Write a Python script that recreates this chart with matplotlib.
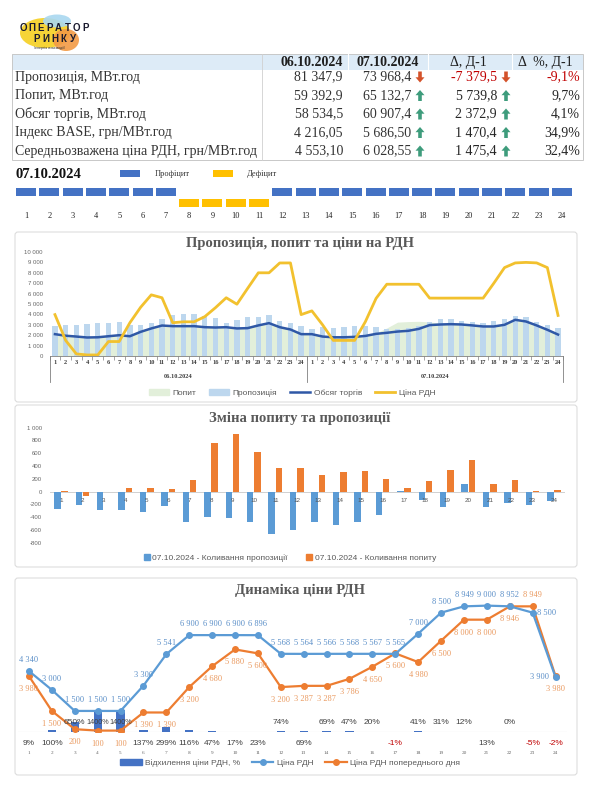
import matplotlib
matplotlib.use("Agg")
import matplotlib.pyplot as plt
from matplotlib.patches import Rectangle, FancyBboxPatch, Polygon, Ellipse, Patch
from matplotlib.lines import Line2D

W, H = 593, 800
SERIF = ["Liberation Serif", "DejaVu Serif"]
SANS = ["Liberation Sans", "DejaVu Sans"]
plt.rcParams["font.family"] = SANS

# ---- table ----
row_names = ["Пропозиція, МВт.год", "Попит, МВт.год", "Обсяг торгів, МВт.год",
             "Індекс BASE, грн/МВт.год", "Середньозважена ціна РДН, грн/МВт.год"]
row_prev = [81347.9, 59392.9, 58534.5, 4216.05, 4553.10]
row_cur = [73968.4, 65132.7, 60907.4, 5686.50, 6028.55]
row_delta = [-7379.5, 5739.8, 2372.9, 1470.4, 1475.4]
row_delta_pct = [-9.1, 9.7, 4.1, 34.9, 32.4]
row_decimals = [1, 1, 1, 2, 2]
date_prev = "06.10.2024"
date_cur = "07.10.2024"

# ---- hourly data ----
hours = list(range(1, 25))
deficit_hours = [8, 9, 10, 11]

supply_prev = [2850, 3000, 3000, 3100, 3200, 3150, 3250, 2950, 3000, 3150, 3550, 3900,
               4000, 4050, 3800, 3650, 3200, 3450, 3750, 3750, 3950, 3400, 3150, 2850]
supply_cur = [2580, 2790, 2720, 2820, 2890, 2925, 2770, 2555, 2595, 2670, 2895, 3300,
              3520, 3530, 3330, 3285, 3210, 3320, 3510, 3870, 3710, 3230, 2950, 2710]
demand_prev = [2140, 1985, 1905, 1815, 1835, 1935, 2035, 1935, 2355, 2690, 2965, 2905,
               2905, 2905, 2805, 2775, 2805, 2685, 2715, 2975, 3195, 2805, 2585, 2135]
demand_cur = [2145, 1915, 1895, 1880, 1895, 1980, 2225, 2695, 3255, 3310, 3335, 3275,
              3165, 3215, 3135, 2975, 2860, 2845, 3055, 3475, 3315, 2985, 2590, 2165]
volume_prev = [2100, 1950, 1870, 1780, 1800, 1900, 2000, 1900, 2320, 2650, 2930, 2870,
               2870, 2870, 2770, 2740, 2770, 2650, 2680, 2940, 3160, 2770, 2550, 2100]
volume_cur = [2100, 1870, 1800, 1800, 1840, 1930, 2130, 2230, 2350, 2420, 2610, 2970,
              3030, 3060, 3030, 2940, 2840, 2840, 3000, 3480, 3320, 2940, 2520, 2060]
price_prev = [3980, 1500, 200, 100, 100, 1390, 1390, 3200, 4680, 5880, 5600, 3200,
              3287, 3287, 3786, 4650, 5600, 4980, 6500, 8000, 8000, 8946, 8949, 3980]
price_cur = [4340, 3000, 1500, 1500, 1500, 3300, 5541, 6900, 6900, 6900, 6896, 5568,
             5564, 5566, 5568, 5567, 5565, 7000, 8500, 8949, 9000, 8952, 8500, 3900]
supply_change = [-270, -210, -280, -280, -310, -225, -480, -395, -405, -480, -655, -600,
                 -480, -520, -470, -365, 10, -130, -240, 120, -240, -170, -200, -140]
demand_change = [5, -70, -10, 65, 60, 45, 190, 760, 900, 620, 370, 370,
                 260, 310, 330, 200, 55, 160, 340, 500, 120, 180, 5, 30]
price_dev_pct = [9, 100, 650, 1400, 1400, 137, 299, 116, 47, 17, 23, 74,
                 69, 69, 47, 20, -1, 41, 31, 12, 13, 0, -5, -2]
# where Excel put each % label: above the bars (1) or under the axis (0)
dev_label_up = [0, 0, 1, 1, 1, 0, 0, 0, 0, 0, 0, 1, 0, 1, 1, 1, 0, 1, 1, 1, 0, 1, 0, 0]

GRAY = "#595959"
BLUE_SQ = "#4472C4"
YELLOW_SQ = "#FFC000"


def px_axes(fig, x0, y0, x1, y1):
    return fig.add_axes([x0 / W, 1 - y1 / H, (x1 - x0) / W, (y1 - y0) / H])


def fmt(v, dec=0):
    s = f"{v:,.{dec}f}"
    return s.replace(",", " ").replace(".", ",")


def arrow(ax, x, y, up, color):
    s = 1 if up else -1
    pts = [(x, y - 5.5 * s), (x + 4.5, y - 0.3 * s), (x + 1.8, y - 0.3 * s),
           (x + 1.8, y + 5.5 * s), (x - 1.8, y + 5.5 * s), (x - 1.8, y - 0.3 * s),
           (x - 4.5, y - 0.3 * s)]
    ax.add_patch(Polygon(pts, closed=True, color=color, lw=0))


def draw_logo(bg):
    bg.add_patch(Ellipse((45, 33), 50, 30, color="#F6D437", lw=0))
    bg.add_patch(Ellipse((66, 40), 26, 22, color="#F29A45", lw=0, alpha=0.9))
    bg.add_patch(Ellipse((57, 21), 28, 13, color="#A9D8F0", lw=0, alpha=0.9))
    # letter-spaced wordmark
    for i, ch in enumerate("ОПЕРАТОР"):
        bg.text(23 + i * 8.9, 28, ch, fontsize=7, fontweight="bold", ha="center",
                va="center", color="#1A1A2E")
    for i, ch in enumerate("РИНКУ"):
        bg.text(37 + i * 8.9, 38.5, ch, fontsize=7, fontweight="bold", ha="center",
                va="center", color="#1A1A2E")
    bg.text(50, 47.5, "/енергія взаємодії/", fontsize=2.6, ha="center", va="center",
            color="#333333")


def draw_table(bg):
    x0, x1, top, bottom = 12, 583, 54, 160
    bg.add_patch(Rectangle((x0, top), x1 - x0, 16, color="#DDEBF7", lw=0))
    bg.add_patch(Rectangle((x0, top), x1 - x0, bottom - top, fill=False,
                           edgecolor="#C8C8C8", lw=0.7))
    bg.plot([262, 262], [top, bottom], color="#D0D0D0", lw=0.6)
    for xs in [348, 428, 512]:
        bg.plot([xs, xs], [top, top + 16], color="white", lw=0.8)

    hy = 62.5
    bg.text(312, hy, date_prev, family=SERIF, fontsize=10, fontweight="bold",
            ha="center", va="center", color="#1F1F1F")
    bg.text(388, hy, date_cur, family=SERIF, fontsize=10, fontweight="bold",
            ha="center", va="center", color="#1F1F1F")
    bg.text(468, hy, "Δ, Д-1", family=SERIF, fontsize=10, ha="center", va="center",
            color="#1F1F1F")
    bg.text(545, hy, "Δ  %, Д-1", family=SERIF, fontsize=10, ha="center", va="center",
            color="#1F1F1F")

    ys = [77, 95.5, 114, 132.5, 151]
    for i, y in enumerate(ys):
        dec = row_decimals[i]
        neg = row_delta[i] < 0
        col = "#C00000" if neg else "#262626"
        acol = "#D4522A" if neg else "#3E9C7C"
        bg.text(15, y, row_names[i], family=SERIF, fontsize=10, ha="left", va="center",
                color="#333333")
        bg.text(343, y, fmt(row_prev[i], dec), family=SERIF, fontsize=10, ha="right",
                va="center", color="#333333")
        bg.text(411, y, fmt(row_cur[i], dec), family=SERIF, fontsize=10, ha="right",
                va="center", color="#333333")
        arrow(bg, 420, y, not neg, acol)
        bg.text(497, y, fmt(row_delta[i], 1), family=SERIF, fontsize=10, ha="right",
                va="center", color=col)
        arrow(bg, 506, y, not neg, acol)
        bg.text(580, y, fmt(row_delta_pct[i], 1) + "%", family=SERIF, fontsize=10,
                ha="right", va="center", color=col)


def draw_hours_strip(bg):
    bg.text(15, 175, date_cur, family=SERIF, fontsize=10.5, fontweight="bold",
            ha="left", va="center", color="#111111")
    bg.add_patch(Rectangle((120, 170), 20, 7, color=BLUE_SQ, lw=0))
    bg.text(155, 173.5, "Профіцит", family=SERIF, fontsize=6, ha="left", va="center",
            color="#333333")
    bg.add_patch(Rectangle((213, 170), 20, 7, color=YELLOW_SQ, lw=0))
    bg.text(247, 173.5, "Дефіцит", family=SERIF, fontsize=6, ha="left", va="center",
            color="#333333")
    step = (562 - 26) / 23
    for h in hours:
        cx = 26 + (h - 1) * step
        if h in deficit_hours:
            bg.add_patch(Rectangle((cx - 10, 199), 20, 8, color=YELLOW_SQ, lw=0))
        else:
            bg.add_patch(Rectangle((cx - 10, 188), 20, 8, color=BLUE_SQ, lw=0))
        bg.text(cx, 216, str(h), family=SERIF, fontsize=6, ha="center", va="center",
                color="#222222")


def frame(bg, y0, y1, title, ty):
    bg.add_patch(FancyBboxPatch((15, y0), 562, y1 - y0, boxstyle="round,pad=0,rounding_size=3",
                                facecolor="white", edgecolor="#DDDDDD", lw=0.8))
    bg.text(300, ty, title, family=SERIF, fontsize=10.5, fontweight="bold", ha="center",
            va="center", color=GRAY)


def draw_chart1(fig):
    ax = px_axes(fig, 49.6, 252, 563.4, 356)
    n = len(hours)
    x = list(range(2 * n))
    supply = supply_prev + supply_cur
    demand = demand_prev + demand_cur
    volume = volume_prev + volume_cur
    price = price_prev + price_cur
    ax.fill_between(x, 0, demand, color="#E2EFDA", lw=0, zorder=1)
    ax.bar(x, supply, width=0.5, color="#BDD7EE", zorder=2)
    ax.plot(x, volume, color="#2F58A6", lw=1.8, zorder=3)
    ax.plot(x, price, color="#F2C12E", lw=2.0, zorder=4)
    ax.set_xlim(-0.5, 2 * n - 0.5)
    ax.set_ylim(0, 10000)
    ax.set_yticks(range(0, 10001, 1000))
    ax.set_yticklabels([fmt(v) for v in range(0, 10001, 1000)], fontsize=4.3, color="#666666")
    ax.tick_params(axis="y", length=0, pad=5)
    ax.set_xticks(x)
    ax.set_xticklabels([str(h) for h in hours] * 2, fontsize=4.6, fontweight="bold",
                       color="#404040", family=SERIF)
    ax.tick_params(axis="x", length=0, pad=3)
    ax.set_xticks([i - 0.5 for i in range(2 * n + 1)], minor=True)
    ax.tick_params(axis="x", which="minor", length=3, color="#808080", width=0.5)
    for s in ["top", "right", "left"]:
        ax.spines[s].set_visible(False)
    ax.spines["bottom"].set_color("#808080")
    ax.spines["bottom"].set_linewidth(0.6)
    tr = ax.get_xaxis_transform()
    for xs in [-0.5, n - 0.5, 2 * n - 0.5]:
        ax.add_line(Line2D([xs, xs], [0, -0.25], transform=tr, color="#808080", lw=0.6,
                           clip_on=False))
    ax.text((n - 1) / 2, -0.2, date_prev, transform=tr, fontsize=4.6, fontweight="bold",
            family=SERIF, ha="center", va="center", color="#404040")
    ax.text(n + (n - 1) / 2, -0.2, date_cur, transform=tr, fontsize=4.6, fontweight="bold",
            family=SERIF, ha="center", va="center", color="#404040")
    ax.patch.set_alpha(0)
    handles = [Patch(color="#E2EFDA"), Patch(color="#BDD7EE"),
               Line2D([], [], color="#2F58A6", lw=1.8), Line2D([], [], color="#F2C12E", lw=2)]
    fig.legend(handles, ["Попит", "Пропозиція", "Обсяг торгів", "Ціна РДН"], ncol=4,
               loc="center", bbox_to_anchor=(292 / W, 1 - 393 / H), frameon=False,
               fontsize=6, labelcolor=GRAY, handlelength=2.4, handleheight=0.7,
               columnspacing=1.6, handletextpad=0.4)


def draw_chart2(fig):
    ax = px_axes(fig, 50.3, 421.3, 564.7, 549.3)
    xs = hours
    ax.bar([h - 0.17 for h in xs], supply_change, width=0.3, color="#5B9BD5", zorder=2)
    ax.bar([h + 0.17 for h in xs], demand_change, width=0.3, color="#ED7D31", zorder=2)
    ax.axhline(0, color="#D0D0D0", lw=0.7, zorder=1)
    ax.set_xlim(0.5, 24.5)
    ax.set_ylim(-900, 1100)
    ticks = list(range(-800, 1001, 200))
    ax.set_yticks(ticks)
    ax.set_yticklabels([fmt(v) for v in ticks], fontsize=4.3, color="#666666")
    ax.tick_params(axis="y", length=0, pad=6)
    ax.set_xticks([])
    for s in ax.spines.values():
        s.set_visible(False)
    for h in xs:
        ax.text(h, -145, str(h), fontsize=4.5, ha="center", va="center", color="#555555")
    ax.patch.set_alpha(0)
    handles = [Patch(color="#5B9BD5"), Patch(color="#ED7D31")]
    fig.legend(handles, [date_cur + " - Коливання пропозиції", date_cur + " - Коливання попиту"],
               ncol=2, loc="center", bbox_to_anchor=(290 / W, 1 - 558 / H), frameon=False,
               fontsize=6, labelcolor=GRAY, handlelength=0.7, handleheight=0.7,
               columnspacing=2.2, handletextpad=0.3)


def draw_chart3(fig):
    axp = px_axes(fig, 17.5, 594.4, 567, 732)
    ax = axp.twinx()
    axp.bar(hours, [v / 100 for v in price_dev_pct], width=0.36, color="#4472C4", zorder=2)
    axp.set_ylim(0, 87.6)
    axp.axhline(0, color="#D9D9D9", lw=0.8, zorder=1)
    ax.plot(hours, price_cur, color="#5B9BD5", lw=1.6, marker="o", ms=4, zorder=4)
    ax.plot(hours, price_prev, color="#ED7D31", lw=1.6, marker="o", ms=4, zorder=3)
    ax.set_ylim(0, 9800)
    for a in (axp, ax):
        a.set_xlim(0.5, 24.5)
        a.set_xticks([])
        a.set_yticks([])
        for s in a.spines.values():
            s.set_visible(False)
        a.patch.set_alpha(0)

    blue_off = {23: (14, 0), 24: (-16, 0)}
    orange_off = {23: (0, 11)}
    for i, h in enumerate(hours):
        dx, dy = blue_off.get(h, (0, 11))
        ax.annotate(fmt(price_cur[i]), (h, price_cur[i]), xytext=(dx, dy),
                    textcoords="offset pixels", ha="center", va="center", fontsize=6,
                    family=SERIF, color="#5B8FC8")
        dx, dy = orange_off.get(h, (0, -13))
        ax.annotate(fmt(price_prev[i]), (h, price_prev[i]), xytext=(dx, dy),
                    textcoords="offset pixels", ha="center", va="center", fontsize=6,
                    family=SERIF, color="#EA9A60")
        label = f"{price_dev_pct[i]}%"
        pcol = "#C00000" if price_dev_pct[i] < 0 else "#404040"
        py = 710 if dev_label_up[i] else -790
        ax.text(h, py, label, fontsize=6.0 if len(label) < 5 else 5.2, ha="center",
                va="center", color=pcol)
        ax.text(h, -1490, str(h), fontsize=3.8, family=SERIF, ha="center", va="center",
                color="#666666")

    handles = [Patch(color="#4472C4"),
               Line2D([], [], color="#5B9BD5", lw=1.6, marker="o", ms=4),
               Line2D([], [], color="#ED7D31", lw=1.6, marker="o", ms=4)]
    fig.legend(handles, ["Відхилення ціни РДН, %", "Ціна РДН", "Ціна РДН попереднього дня"],
               ncol=3, loc="center", bbox_to_anchor=(290 / W, 1 - 763 / H), frameon=False,
               fontsize=6, labelcolor=GRAY, handlelength=2.6, handleheight=0.6,
               columnspacing=1.4, handletextpad=0.4)


def main():
    fig = plt.figure(figsize=(W / 100, H / 100), dpi=100)
    bg = fig.add_axes([0, 0, 1, 1])
    bg.set_xlim(0, W)
    bg.set_ylim(H, 0)
    bg.axis("off")

    draw_logo(bg)
    draw_table(bg)
    draw_hours_strip(bg)
    frame(bg, 232, 402, "Пропозиція, попит та ціни на РДН", 243)
    frame(bg, 405, 567, "Зміна попиту та пропозиції", 418)
    frame(bg, 578, 775, "Динаміка ціни РДН", 590)

    draw_chart1(fig)
    draw_chart2(fig)
    draw_chart3(fig)

    fig.savefig("out.png", dpi=100)


if __name__ == "__main__":
    main()
